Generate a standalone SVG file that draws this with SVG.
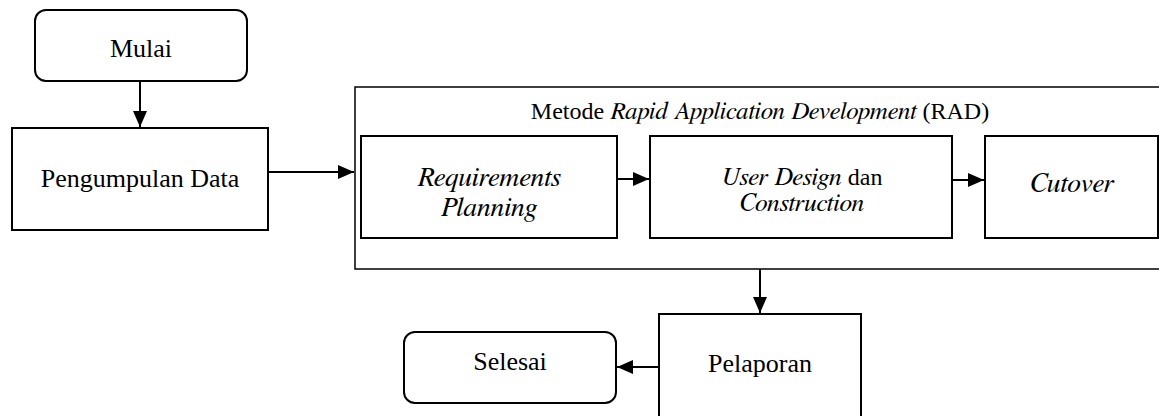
<svg xmlns="http://www.w3.org/2000/svg" width="1159" height="416" viewBox="0 0 1159 416">
<style>
.box{fill:#fff;stroke:#000;stroke-width:2}
.cont{fill:#fff;stroke:#000;stroke-width:1.5}
.t{font-family:"Liberation Serif","Times New Roman",serif;font-size:26px;fill:#000;text-anchor:middle}
.s24{font-size:24px}
.i{font-family:"FreeSerif","Liberation Serif",serif;font-style:italic}
.ib{font-size:27.7px}
.im{font-size:25.6px}
.c{stroke:#000;stroke-width:2;fill:none;marker-end:url(#ah)}
</style>
<defs>
<marker id="ah" markerUnits="userSpaceOnUse" markerWidth="16" markerHeight="14" viewBox="0 0 16 14" refX="16" refY="7" orient="auto">
<path d="M0,0 L16,7 L0,14 Z" fill="#000"/>
</marker>
</defs>
<rect width="1159" height="416" fill="#fff"/>
<g id="rad">
<rect class="cont" x="355" y="87" width="812" height="182"/>
<text class="t s24" x="760" y="119">Metode <tspan class="i" style="font-size:25px">Rapid Application Development</tspan> (RAD)</text>
</g>
<g id="mulai">
<rect class="box" x="35" y="10" width="212" height="71" rx="11"/>
<text class="t" x="141" y="57">Mulai</text>
</g>
<g id="pengumpulan">
<rect class="box" x="12" y="128" width="256" height="102"/>
<text class="t" x="140" y="187">Pengumpulan Data</text>
</g>
<g id="requirements">
<rect class="box" x="361" y="136" width="256" height="102"/>
<text class="t i ib" x="489" y="186">Requirements</text>
<text class="t i ib" x="489" y="216">Planning</text>
</g>
<g id="userdesign">
<rect class="box" x="650" y="136" width="302" height="102"/>
<text class="t s24" x="802" y="185"><tspan class="i im">User Design</tspan> dan</text>
<text class="t i im" x="802" y="211">Construction</text>
</g>
<g id="cutover">
<rect class="box" x="985" y="136" width="173" height="102"/>
<text class="t i ib" x="1072" y="192">Cutover</text>
</g>
<g id="pelaporan">
<rect class="box" x="659" y="314" width="202" height="110"/>
<text class="t" x="760" y="372">Pelaporan</text>
</g>
<g id="selesai">
<rect class="box" x="404" y="332" width="212" height="71" rx="11"/>
<text class="t" x="510" y="370">Selesai</text>
</g>
<g id="connectors">
<line class="c" x1="140" y1="81" x2="140" y2="127"/>
<line class="c" x1="268" y1="172" x2="354" y2="172"/>
<line class="c" x1="617" y1="179" x2="649" y2="179"/>
<line class="c" x1="952" y1="180" x2="984" y2="180"/>
<line class="c" x1="760" y1="269" x2="760" y2="313"/>
<line class="c" x1="659" y1="367" x2="617" y2="367"/>
</g>
</svg>
